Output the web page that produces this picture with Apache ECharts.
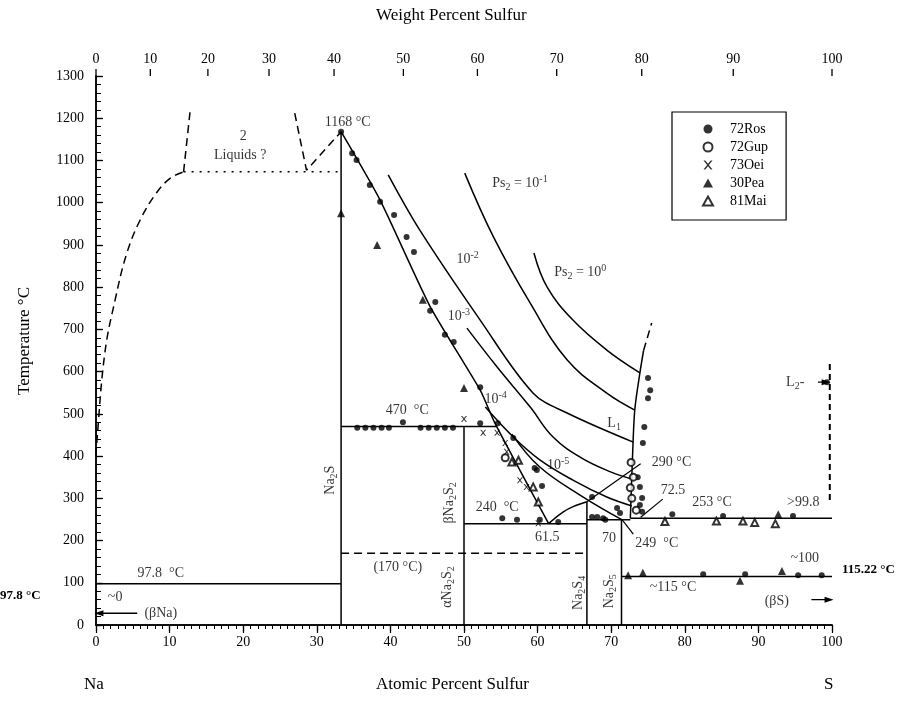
<!DOCTYPE html>
<html><head><meta charset="utf-8">
<script src="https://cdn.jsdelivr.net/npm/echarts@6/dist/echarts.min.js"></script>
<style>html,body{margin:0;padding:0;background:#fff}#c{width:915px;height:708px}</style>
</head><body><div id="c"></div>
<script>
// ---------- data (atomic % S, temperature °C) ----------
const weightTicks = [0,10,20,30,40,50,60,70,80,90,100];

const naLiquidusDashed = [[0,400],[0.1,431],[1.2,644],[2.6,770],[4.2,881],[6.0,959],[8.2,1023],[10.1,1058],[11.9,1073]];
const gapLeftDashed = [[11.9,1073],[12.8,1219]];
const monotecticDotted = [[11.9,1073],[33.0,1073]];
const gapRightDashed = [[27.0,1212],[28.6,1077],[33.3,1168]];
const na2sLine = [[33.3,0],[33.3,1168]];
const na2sLiquidus = [[33.3,1168],[38.6,1006],[45.4,754],[52.2,556],[54.2,478],[61.5,240]];
const peritectic470 = [[33.3,470],[54.45,470]];
const na2s2Line = [[50,0],[50,470]];
const eutectic240 = [[50,240],[66.7,240]];
const na2s4Liquidus = [[61.5,240],[63.5,268],[65.2,283],[66.7,292]];
const na2s4Line = [[66.7,0],[66.7,292]];
const eutectic249 = [[66.7,249],[72.6,249]];
const monotectic253 = [[72.6,253],[100,253]];
const na2s5Line = [[71.4,0],[71.4,249]];
const eutectoid115 = [[71.4,115],[100,115]];
const transition170 = [[33.3,170],[66.7,170]];
const naMelt978 = [[0,97.8],[33.3,97.8]];
const l1Solid = [[72.6,253],[72.9,400],[73.2,509],[73.9,597],[74.4,650]];
const l1Dashed = [[74.4,650],[75.5,715]];
const l2Dashed = [[99.7,296],[99.7,627]];
const isobar0 = [[59.5,881],[61.3,800],[64.8,722],[69.4,651],[73.9,597]];
const isobar1 = [[50.1,1070],[54.0,919],[59.0,762],[64.0,628],[69.4,549],[73.2,509]];
const isobar2 = [[39.7,1066],[44.0,935],[52.2,722],[59.4,549],[64.0,502],[73.0,433]];
const isobar3 = [[50.4,703],[54.5,611],[59.0,516],[62.1,445],[66.0,395],[70.0,362],[72.9,345]];
const isobar4 = [[52.9,516],[56.7,445],[60.3,391],[64.8,343],[69.4,303],[72.8,282]];
const isobar5 = [[56.5,452],[60.3,374],[66.2,303],[71.5,249]];
const leader290 = [[66.7,292],[74.0,382]];
const leader725 = [[74.0,255],[77.0,298]];
const leader249 = [[71.5,249],[73.0,215]];

const ros72 = [[33.3,1168],[34.8,1117],[35.4,1101],[37.2,1042],[38.6,1002],[40.5,971],[42.2,919],[43.2,883],[46.1,765],[45.4,744],[47.4,687],[48.6,670],[52.2,563],
  [35.5,467],[36.6,467],[37.7,467],[38.8,467],[39.8,467],[41.7,480],[44.1,467],[45.2,467],[46.3,467],[47.4,467],[48.5,467],[52.2,478],[54.6,478],[56.7,443],[59.6,372],[59.9,367],[60.6,329],
  [55.2,253],[57.2,249],[60.3,249],[62.8,244],[67.4,303],[67.4,256],[68.1,256],[68.9,253],[69.2,249],[70.8,277],[71.2,265],
  [73.6,350],[73.9,327],[74.2,301],[73.9,284],[74.2,268],[74.5,469],[74.3,431],[75.0,585],[75.3,556],[75.0,537],
  [78.3,262],[85.2,258],[94.7,258],[82.5,120],[88.2,120],[95.4,118],[98.6,118],[99.3,575]];
const gup72 = [[55.6,396],[72.7,385],[73.0,350],[72.6,325],[72.8,300],[73.4,272]];
const oei73 = [[50,488],[52.6,455],[54.5,455],[55.6,431],[55.8,410],[57.6,343],[58.5,327],[60.1,241]];
const pea30 = [[33.3,975],[38.2,900],[44.4,770],[50.0,561],[92.7,262],[72.3,118],[74.3,124],[87.5,105],[93.2,128]];
const mai81 = [[56.5,386],[57.4,390],[59.4,327],[60.1,291],[77.3,245],[84.3,246],[87.9,246],[89.5,243],[92.3,240]];

// annotations: [x, T, text]
const notes = [
  [34.2,1191,'1168 °C'],[20.0,1156,'2'],[19.6,1113,'Liquids ?'],
  [57.6,1045,'{n|Ps}{sub|2}{n| = 10}{sup|-1}'],[65.8,836,'{n|Ps}{sub|2}{n| = 10}{sup|0}'],
  [50.5,866,'{n|10}{sup|-2}'],[49.3,731,'{n|10}{sup|-3}'],[54.3,535,'{n|10}{sup|-4}'],[62.8,378,'{n|10}{sup|-5}'],
  [70.4,478,'{n|L}{sub|1}'],[78.2,386,'290 °C'],[78.4,320,'72.5'],[83.7,291,'253 °C'],[96.1,291,'>99.8'],
  [76.2,194,'249  °C'],[69.7,206,'70'],[61.3,208,'61.5'],[54.5,279,'240  °C'],[42.3,509,'470  °C'],
  [78.4,90,'~115 °C'],[96.3,159,'~100'],[41.0,137,'(170 °C)'],[8.8,123,'97.8  °C'],[2.6,66,'~0'],
  [8.8,28,'(βNa)'],[92.5,55,'(βS)'],[95.0,575,'{n|L}{sub|2}{n|-}']
];
const vnotes = [
  [31.8,343,'{n|Na}{sub|2}{n|S}'],[48.0,289,'{n|βNa}{sub|2}{n|S}{sub|2}'],[47.7,90,'{n|αNa}{sub|2}{n|S}{sub|2}'],
  [65.6,76,'{n|Na}{sub|2}{n|S}{sub|4}'],[69.7,80,'{n|Na}{sub|2}{n|S}{sub|5}']
];
const arrowNa = [[5.6,28],[0.4,28]];
const arrowS = [[97.2,60],[99.6,60]];
const arrowL2 = [[98.1,575],[99.2,575]];

// ---------- helpers ----------
const FONT = 'Liberation Serif';
const INK = '#000';
function wtToAt(w){ if(w<=0) return 0; if(w>=100) return 100; const s=w/32.06, n=(100-w)/22.99; return 100*s/(s+n); }
const rich = {
  n:{fontFamily:FONT,fontSize:14,color:INK},
  sub:{fontFamily:FONT,fontSize:10,color:INK,padding:[8,0,0,0]},
  sup:{fontFamily:FONT,fontSize:10,color:INK,padding:[0,0,8,0]}
};
function ln(data, type, smooth, width){
  return {type:'line',data:data,showSymbol:false,symbol:'none',smooth:smooth||false,silent:true,z:3,
    lineStyle:{color:INK,width:width||1.5,type:type||'solid'},animation:false};
}
function arrowSeries(data, rot){
  return {type:'line',silent:true,z:4,animation:false,lineStyle:{color:INK,width:1.4},
    data:[{value:data[0],symbol:'none'},{value:data[1],symbol:'triangle',symbolSize:[6,9],symbolRotate:rot}],
    itemStyle:{color:INK}};
}
const DASH=[8,5], DOT=[2,6];
const xPath = 'path://M0,0 L2,0 L5,3.6 L8,0 L10,0 L6,5 L10,10 L8,10 L5,6.4 L2,10 L0,10 L4,5 Z';

const chart = echarts.init(document.getElementById('c'));
const series = [
  ln(naLiquidusDashed,DASH,0.4), ln(gapLeftDashed,DASH), ln(monotecticDotted,DOT), ln(gapRightDashed,DASH),
  ln(na2sLine), ln(na2sLiquidus,'solid',0.2), ln(peritectic470), ln(na2s2Line), ln(eutectic240),
  ln(na2s4Liquidus,'solid',0.4), ln(na2s4Line), ln(eutectic249), ln(monotectic253), ln(na2s5Line), ln(eutectoid115),
  ln(transition170,DASH), ln(naMelt978), ln(l1Solid,'solid',0.3), ln(l1Dashed,DASH), ln(l2Dashed,[6,4],false,2),
  ln(isobar0,'solid',0.4), ln(isobar1,'solid',0.4), ln(isobar2,'solid',0.35), ln(isobar3,'solid',0.4),
  ln(isobar4,'solid',0.4), ln(isobar5,'solid',0.4), ln(leader290,'solid',false,1.2), ln(leader725,'solid',false,1.2), ln(leader249,'solid',false,1.2),
  arrowSeries(arrowNa,90), arrowSeries(arrowS,-90), arrowSeries(arrowL2,-90),
  {name:'72Ros',type:'scatter',data:ros72,symbol:'circle',symbolSize:6,itemStyle:{color:INK},z:5,animation:false},
  {name:'72Gup',type:'scatter',data:gup72,symbol:'emptyCircle',symbolSize:7,itemStyle:{color:INK,borderColor:INK,borderWidth:1},z:5,animation:false},
  {name:'73Oei',type:'scatter',data:oei73,symbol:xPath,symbolSize:6,itemStyle:{color:INK},z:5,animation:false},
  {name:'30Pea',type:'scatter',data:pea30,symbol:'triangle',symbolSize:8,itemStyle:{color:INK},z:5,animation:false},
  {name:'81Mai',type:'scatter',data:mai81,symbol:'emptyTriangle',symbolSize:7,itemStyle:{color:INK,borderColor:INK,borderWidth:1},z:5,animation:false},
  {type:'scatter',silent:true,clip:false,symbolSize:0,z:6,animation:false,
    data:notes.map(n=>({value:[n[0],n[1]],txt:n[2]})),
    label:{show:true,position:'inside',formatter:p=>{const t=p.data.txt;return t.indexOf('{')===0?t:'{n|'+t+'}';},rich:rich}},
  {type:'scatter',silent:true,clip:false,symbolSize:0,z:6,animation:false,
    data:vnotes.map(n=>({value:[n[0],n[1]],txt:n[2]})),
    label:{show:true,position:'inside',rotate:90,formatter:p=>p.data.txt,rich:rich}},
  {type:'custom',xAxisIndex:1,yAxisIndex:0,silent:true,clip:false,z:6,animation:false,
    data:weightTicks.map(w=>[wtToAt(w),1300,w]),
    renderItem:(params,api)=>{
      const p=api.coord([api.value(0),api.value(1)]);
      return {type:'group',children:[
        {type:'line',shape:{x1:p[0],y1:p[1],x2:p[0],y2:p[1]-7},style:{stroke:INK,lineWidth:1.3}},
        {type:'text',x:p[0],y:p[1]-10,style:{text:String(api.value(2)),textAlign:'center',textVerticalAlign:'bottom',fontFamily:FONT,fontSize:14,fill:INK}}
      ]};
    }}
];

const axisCommon = {min:0,axisLine:{lineStyle:{color:INK,width:1.5}},splitLine:{show:false}};
const plain = v=>String(v);
chart.setOption({
  animation:false,
  backgroundColor:'#fff',
  grid:{left:96,right:83,top:76,bottom:83},
  legend:{data:['72Ros','72Gup','73Oei','30Pea','81Mai'],orient:'vertical',left:672,top:112,
    padding:[10,18,12,30],itemGap:4,itemWidth:10,itemHeight:9,
    borderColor:INK,borderWidth:1.2,selectedMode:false,
    textStyle:{fontFamily:FONT,fontSize:14,color:INK,padding:[0,0,0,12]}},
  xAxis:[
    Object.assign({},axisCommon,{type:'value',position:'bottom',max:100,interval:10,
      axisTick:{inside:false,length:6,lineStyle:{color:INK,width:1.2}},
      minorTick:{show:true,splitNumber:10,length:4,lineStyle:{color:INK}},
      axisLabel:{fontFamily:FONT,fontSize:14,color:INK,margin:10,formatter:plain}}),
    Object.assign({},axisCommon,{type:'value',position:'top',max:100,interval:10,
      axisTick:{inside:true,length:8,lineStyle:{color:INK,width:1.2}},
      minorTick:{show:true,splitNumber:10,length:4,lineStyle:{color:INK}},
      axisLabel:{show:false}})
  ],
  yAxis:[
    Object.assign({},axisCommon,{type:'value',position:'left',max:1300,interval:100,
      axisTick:{inside:true,length:7,lineStyle:{color:INK,width:1.2}},
      minorTick:{show:true,splitNumber:5,length:4,lineStyle:{color:INK}},
      axisLabel:{fontFamily:FONT,fontSize:14,color:INK,margin:12,formatter:plain}}),
    Object.assign({},axisCommon,{type:'value',position:'right',max:1300,interval:100,
      axisTick:{inside:false,length:6,lineStyle:{color:INK,width:1.2}},
      minorTick:{show:true,splitNumber:5,length:5,lineStyle:{color:INK}},
      axisLabel:{show:false}})
  ],
  graphic:[
    {type:'text',left:376,top:7,style:{text:'Weight Percent Sulfur',fontFamily:FONT,fontSize:17,fill:INK}},
    {type:'text',left:376,top:676,style:{text:'Atomic Percent Sulfur',fontFamily:FONT,fontSize:17,fill:INK}},
    {type:'text',left:84,top:676,style:{text:'Na',fontFamily:FONT,fontSize:17,fill:INK}},
    {type:'text',left:824,top:676,style:{text:'S',fontFamily:FONT,fontSize:17,fill:INK}},
    {type:'text',left:16,top:287,rotation:Math.PI/2,style:{text:'Temperature °C',fontFamily:FONT,fontSize:17,fill:INK}},
    {type:'text',left:0,top:589,style:{text:'97.8 °C',fontFamily:FONT,fontSize:13,fontWeight:'bold',fill:INK}},
    {type:'text',left:842,top:563,style:{text:'115.22 °C',fontFamily:FONT,fontSize:13,fontWeight:'bold',fill:INK}}
  ],
  series:series
});
</script></body></html>
